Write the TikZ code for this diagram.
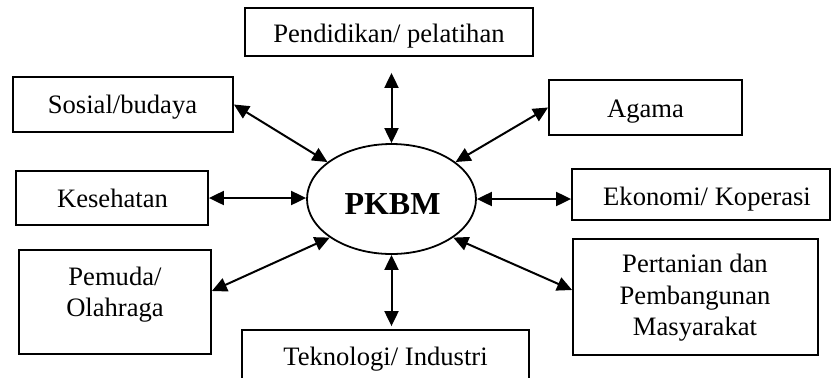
\documentclass[tikz,border=0pt]{standalone}
\usepackage{fontspec}
\setmainfont{Liberation Serif}
\usetikzlibrary{arrows.meta,shapes.geometric}
\begin{document}
\begin{tikzpicture}[x=0.5pt,y=-0.5pt,
  box/.style n args={2}{draw,line width=0.9pt,inner sep=0pt,minimum width=#1*0.5pt,minimum height=#2*0.5pt},
  txt/.style={font=\fontsize{13.3}{15.8}\selectfont,inner sep=0pt,align=center},
  arr/.style={{Triangle[length=7.5pt,width=7pt]}-{Triangle[length=7.5pt,width=7pt]},line width=1pt}]
\clip (0,0) rectangle (832,377);
% boxes
\node[box={288}{48}] (pend) at (389,32) {};
\node[box={220}{55}] (sos) at (123,104.5) {};
\node[box={193}{55}] (agama) at (645.5,107.5) {};
\node[box={192}{54}] (kes) at (112,198) {};
\node[box={258}{51}] (eko) at (701,194.5) {};
\node[box={192}{104}] (pem) at (115,302) {};
\node[box={245}{116}] (pert) at (695.5,297) {};
\node[box={287}{70}] (tek) at (385.5,365) {};
\node[draw,ellipse,line width=0.9pt,inner sep=0pt,minimum width=84.5pt,minimum height=55pt] (pkbm) at (391.5,199) {};
% texts
\node[txt,anchor=base] (pendT) at (389,42) {Pendidikan/ pelatihan};
\node[txt,anchor=base] (sosT) at (122.5,113) {Sosial/budaya};
\node[txt,anchor=base] (agamaT) at (645.5,117) {Agama};
\node[txt,anchor=base] (kesT) at (112.5,207) {Kesehatan};
\node[txt,anchor=base] (ekoT) at (707,205) {Ekonomi/ Koperasi};
\node[txt] (pemT) at (115,294.8) {Pemuda/\\Olahraga};
\node[txt] (pertT) at (695,297.8) {Pertanian dan\\Pembangunan\\Masyarakat};
\node[txt,anchor=base] (tekT) at (385.5,365) {Teknologi/ Industri};
\node[font=\fontsize{16}{19}\selectfont\bfseries,inner sep=0pt,anchor=base] (pkbmT) at (392.5,214) {PKBM};
% connectors
\draw[arr,shorten <=8pt] (pkbm.north |- pend.south) -- (pkbm.north);
\draw[arr,shorten >=1.5pt] (pkbm.south) -- (pkbm.south |- tek.north);
\draw[arr] (sos.east) -- (pkbm.150);
\draw[arr] (agama.west) -- (pkbm.30);
\draw[arr] (kes.east) -- (kes.east -| pkbm.west);
\draw[arr] (pkbm.east) -- (pkbm.east -| eko.west);
\draw[arr] ([yshift=5.5pt]pem.east) -- (pkbm.212);
\draw[arr] ([yshift=3.5pt]pert.west) -- (pkbm.-32);
\end{tikzpicture}
\end{document}
